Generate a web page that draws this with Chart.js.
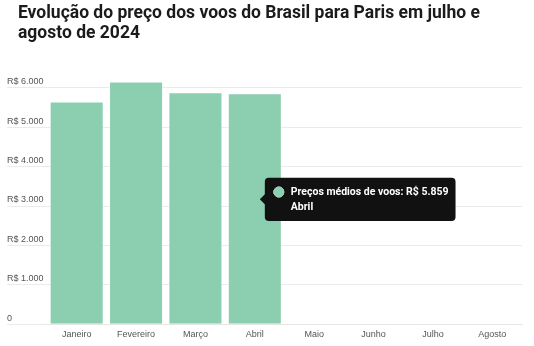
<!DOCTYPE html>
<html>
<head>
    <meta charset="utf-8">
    <title>Preço dos voos Brasil - Paris</title>
    <script src="https://cdn.jsdelivr.net/npm/chart.js"></script>
    <style>
        body { margin: 0; background: #fff; }
        #wrap { position: relative; width: 534px; height: 346px; }
        #title {
            position: absolute; left: 18px; top: 2px; white-space: nowrap;
            font-family: "Roboto", "Noto Sans", sans-serif; font-weight: 700;
            font-size: 17.5px; line-height: 20px; color: #1b1b1b;
        }
    </style>
</head>
<body>
<div id="wrap">
    <div id="title">Evolução do preço dos voos do Brasil para Paris em julho e<br>agosto de 2024</div>
    <canvas id="myChart" width="534" height="346"></canvas>
</div>

<script>
    // meses e preços médios (R$)
    var meses = ['Janeiro', 'Fevereiro', 'Março', 'Abril', 'Maio', 'Junho', 'Julho', 'Agosto'];
    var precos = [5650, 6160, 5890, 5859, null, null, null, null];
    var serieNome = 'Preços médios de voos';
    var mesDestaque = 3;

    // marcas do eixo y
    var ticksY = [0, 1000, 2000, 3000, 4000, 5000, 6000];
    var maxY = 6300;

    var verde = '#8ccfb0';
    var fonteEixo = { family: '"Liberation Sans", Arial, sans-serif', size: 9 };

    function formatBRL(v) {
        return 'R$ ' + v.toLocaleString('pt-BR');
    }

    // tooltip ao lado da barra, a meia altura
    Chart.Tooltip.positioners.ladoBarra = function (items) {
        if (!items.length) return false;
        var el = items[0].element;
        return { x: el.x + 5, y: el.y + (el.base - el.y) * 0.46 };
    };

    var ctx = document.getElementById('myChart').getContext('2d');
    var myChart = new Chart(ctx, {
        type: 'bar',
        data: {
            labels: meses,
            datasets: [{
                label: serieNome,
                data: precos,
                backgroundColor: verde,
                hoverBackgroundColor: verde,
                borderColor: 'rgba(255,255,255,0.45)',
                hoverBorderColor: 'rgba(255,255,255,0.45)',
                borderWidth: 1,
                barPercentage: 0.91,
                categoryPercentage: 1
            }]
        },
        options: {
            responsive: false,
            animation: false,
            layout: { padding: { top: 76, left: 7, right: 12, bottom: 2 } },
            plugins: {
                legend: { display: false },
                tooltip: {
                    position: 'ladoBarra',
                    xAlign: 'left',
                    yAlign: 'center',
                    backgroundColor: '#111',
                    cornerRadius: 4,
                    caretSize: 5,
                    caretPadding: 0,
                    padding: { top: 8, bottom: 7, left: 9, right: 7 },
                    usePointStyle: true,
                    boxWidth: 10,
                    boxHeight: 10,
                    boxPadding: 5,
                    bodyFont: { family: 'Roboto, sans-serif', size: 10.5, weight: 'bold' },
                    bodySpacing: 3,
                    bodyColor: '#fff',
                    callbacks: {
                        title: function () { return ''; },
                        label: function (c) { return c.dataset.label + ': ' + formatBRL(c.parsed.y); },
                        afterLabel: function (c) { return c.label; },
                        labelPointStyle: function () { return { pointStyle: 'circle', rotation: 0 }; },
                        labelColor: function () { return { borderColor: verde, backgroundColor: verde, borderWidth: 0 }; }
                    }
                }
            },
            scales: {
                x: {
                    grid: { display: false, drawTicks: false },
                    border: { color: '#e6e6e6' },
                    ticks: { color: '#555', font: fonteEixo, padding: 4.5 }
                },
                y: {
                    min: 0,
                    max: maxY,
                    afterFit: function (scale) { scale.width = 40; },
                    afterBuildTicks: function (scale) {
                        scale.ticks = ticksY.map(function (v) { return { value: v }; });
                    },
                    border: { display: false },
                    grid: { color: '#ebebeb', tickLength: 40 },
                    ticks: {
                        autoSkip: false,
                        crossAlign: 'far',
                        labelOffset: -6,
                        padding: 0,
                        color: '#555',
                        font: fonteEixo,
                        callback: function (v) { return v === 0 ? '0' : formatBRL(v); }
                    }
                }
            }
        }
    });

    // deixa o tooltip aberto sobre abril
    var ativo = [{ datasetIndex: 0, index: mesDestaque }];
    myChart.setActiveElements(ativo);
    myChart.tooltip.setActiveElements(ativo, { x: 0, y: 0 });
    myChart.update();
</script>
</body>
</html>
